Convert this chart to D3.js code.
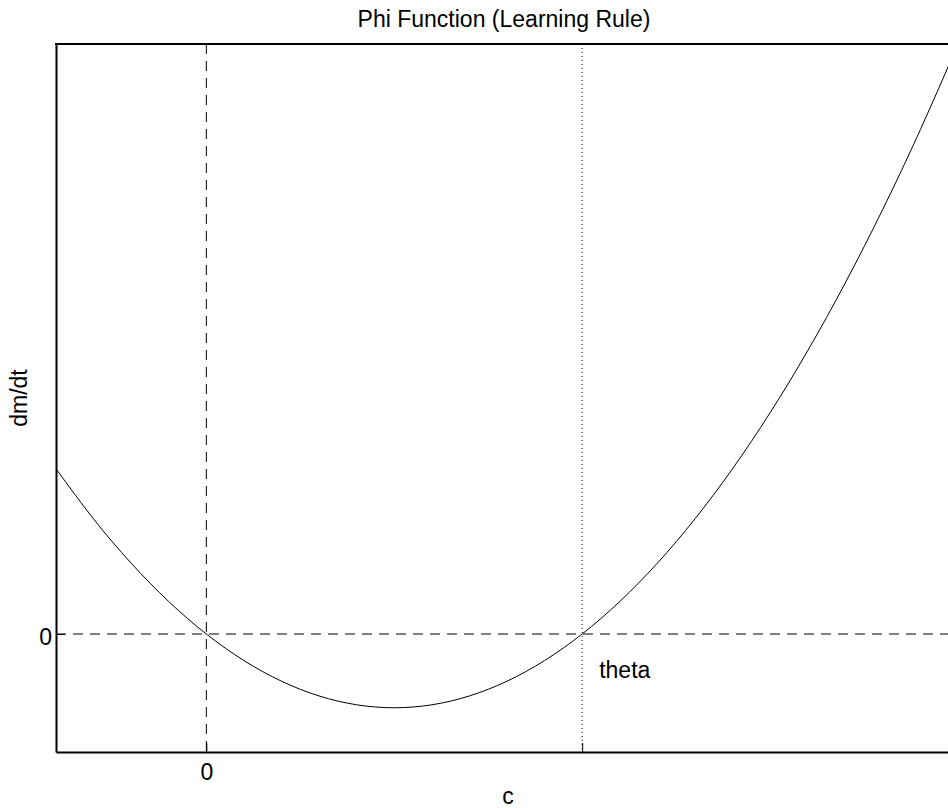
<!DOCTYPE html>
<html>
<head>
<meta charset="utf-8">
<script src="https://cdn.jsdelivr.net/npm/d3@7"></script>
<style>
  html, body { margin: 0; padding: 0; background: #fff; }
  svg { display: block; font-family: "Liberation Sans", Arial, Helvetica, sans-serif; }
</style>
</head>
<body>
<svg id="chart" width="948" height="808"></svg>
<script>
// Sampled learning-rule curve: dm/dt as a function of postsynaptic activity c
const cValues   = [-0.4, -0.3, -0.2, -0.1, 0.0, 0.1, 0.2, 0.3, 0.4, 0.5, 0.6, 0.7, 0.8, 0.9, 1.0,
                   1.1, 1.2, 1.3, 1.4, 1.5, 1.6, 1.7, 1.8, 1.9, 2.0];
const phiValues = [0.56, 0.39, 0.24, 0.11, 0.0, -0.09, -0.16, -0.21, -0.24, -0.25, -0.24, -0.21, -0.16, -0.09, 0.0,
                   0.11, 0.24, 0.39, 0.56, 0.75, 0.96, 1.19, 1.44, 1.71, 2.0];

// Threshold where the rule switches from depression to potentiation
const theta = 1.0;

const xDomain = [-0.4, 2.0];
const yDomain = [-0.4, 2.0];
const xTickValues = [0, theta];
const xTickLabels = ["0", ""];
const yTickValues = [0];
const yTickLabels = ["0"];

const titleText = "Phi Function (Learning Rule)";
const xLabelText = "c";
const yLabelText = "dm/dt";
const thetaLabel = "theta";

const svg = d3.select("#chart");
const plot = { left: 56, top: 44, bottom: 752, right: 958 };
const fontSize = 23;

const x = d3.scaleLinear().domain(xDomain).range([plot.left, plot.right]);
const y = d3.scaleLinear().domain(yDomain).range([plot.bottom, plot.top]);

// Reference lines: c = 0 and dm/dt = 0 dashed, c = theta dotted
svg.append("line")
  .attr("x1", x(0)).attr("x2", x(0)).attr("y1", plot.top).attr("y2", plot.bottom)
  .attr("stroke", "#000").attr("stroke-width", 1).attr("stroke-dasharray", "10,7");
svg.append("line")
  .attr("x1", plot.left).attr("x2", plot.right).attr("y1", y(0)).attr("y2", y(0))
  .attr("stroke", "#000").attr("stroke-width", 1).attr("stroke-dasharray", "10,7");
svg.append("line")
  .attr("x1", x(theta)).attr("x2", x(theta)).attr("y1", plot.top).attr("y2", plot.bottom)
  .attr("stroke", "#000").attr("stroke-width", 1).attr("stroke-dasharray", "1,3");

// The curve
const pts = cValues.map((c, i) => [c, phiValues[i]]);
svg.append("path")
  .datum(pts)
  .attr("fill", "none")
  .attr("stroke", "#000")
  .attr("stroke-width", 1)
  .attr("d", d3.line().x(d => x(d[0])).y(d => y(d[1])).curve(d3.curveNatural));

// Axes with inward ticks
const xAxis = d3.axisBottom(x)
  .tickValues(xTickValues)
  .tickFormat((d, i) => xTickLabels[i])
  .tickSizeInner(-9).tickSizeOuter(0);
const gx = svg.append("g").attr("transform", `translate(0,${plot.bottom})`).call(xAxis);

const yAxis = d3.axisLeft(y)
  .tickValues(yTickValues)
  .tickFormat((d, i) => yTickLabels[i])
  .tickSizeInner(-9).tickSizeOuter(0);
const gy = svg.append("g").attr("transform", `translate(${plot.left},0)`).call(yAxis);

[gx, gy].forEach(g => {
  g.select(".domain").attr("stroke", "#000").attr("stroke-width", 2);
  g.selectAll(".tick line").attr("stroke", "#000").attr("stroke-width", 1);
  g.selectAll(".tick text").attr("fill", "#000").attr("font-size", fontSize)
    .attr("font-family", "Liberation Sans, Arial, sans-serif");
});
gx.selectAll(".tick text").attr("dy", 0).attr("y", 28);
gy.selectAll(".tick text").attr("dy", 0).attr("y", 10).attr("x", -4);

// Top frame line
svg.append("line")
  .attr("x1", plot.left - 1).attr("x2", plot.right).attr("y1", plot.top).attr("y2", plot.top)
  .attr("stroke", "#000").attr("stroke-width", 2);

// Titles and labels
svg.append("text")
  .attr("x", 504).attr("y", 27)
  .attr("text-anchor", "middle").attr("font-size", fontSize)
  .text(titleText);
svg.append("text")
  .attr("x", 508).attr("y", 804)
  .attr("text-anchor", "middle").attr("font-size", fontSize)
  .text(xLabelText);
svg.append("text")
  .attr("transform", `translate(27,${(plot.top + plot.bottom) / 2}) rotate(-90)`)
  .attr("text-anchor", "middle").attr("font-size", fontSize)
  .text(yLabelText);
svg.append("text")
  .attr("x", x(theta) + 17).attr("y", y(0) + 44)
  .attr("font-size", fontSize)
  .text(thetaLabel);
</script>
</body>
</html>
